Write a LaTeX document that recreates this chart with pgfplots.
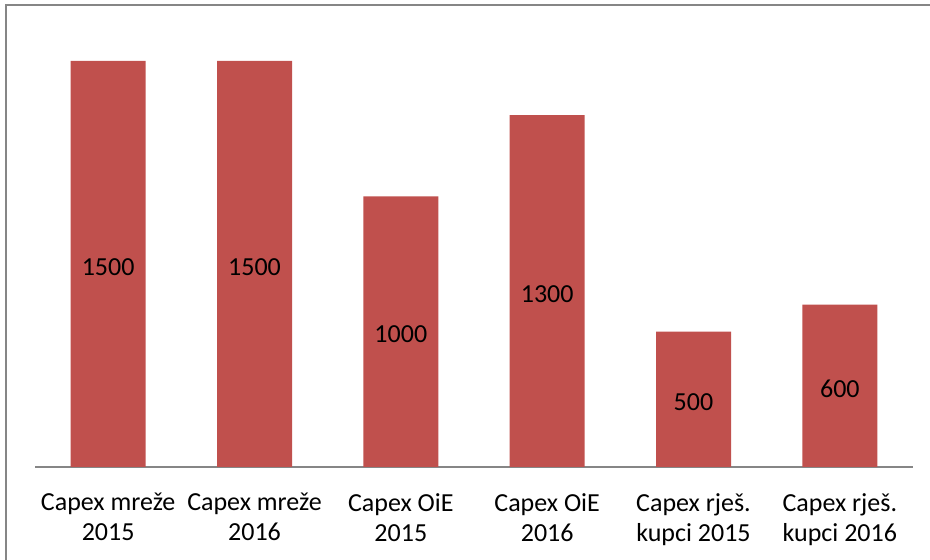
\documentclass[border=0pt]{standalone}
\usepackage{pgfplots}
\pgfplotsset{compat=1.18}
\usepackage{pgfplotstable}
\usepackage{fontspec}
\setmainfont{Carlito}
\definecolor{barred}{HTML}{C0504D}
\definecolor{framegray}{HTML}{868686}
\pgfplotstableread{
x y
0 1500
1 1500
2 1000
3 1300
4 500
5 600
}\capex
\begin{document}
\begin{tikzpicture}[x=1bp,y=1bp]
\useasboundingbox (0,0) rectangle (930,560);
\draw[framegray,line width=2bp] (6,0) -- (6,555) -- (930,555);
\begin{axis}[
  at={(35bp,93bp)}, anchor=south west,
  scale only axis, width=878bp, height=433.1bp,
  xmin=-0.5, xmax=5.5, ymin=0, ymax=1600,
  axis x line*=bottom, axis y line=none,
  x axis line style={draw=framegray, line width=2bp, -},
  ytick=\empty,
  xtick=data,
  xticklabels={{Capex mreže\\2015},{Capex mreže\\2016},{Capex OiE\\2015},{Capex OiE\\2016},{Capex rješ.\\kupci 2015},{Capex rješ.\\kupci 2016}},
  x tick label style={align=center, font=\fontsize{26bp}{30bp}\selectfont, text=black, inner sep=0pt, anchor=north, yshift=-26bp},
  major tick length=0pt,
  /pgf/number format/1000 sep={},
  /pgf/number format/assume math mode=true,
  clip=false,
]
\addplot[ybar, bar width=75bp, fill=barred, draw=none] table[x=x,y=y] {\capex};
\addplot[only marks, mark=none, point meta=explicit, nodes near coords,
  nodes near coords={\pgfmathprintnumber[1000 sep={},assume math mode=true]{\pgfplotspointmeta}},
  every node near coord/.append style={anchor=center, yshift=-3bp, font=\fontsize{26bp}{30bp}\selectfont, text=black}]
  table[x=x, y expr=\thisrow{y}/2, meta=y] {\capex};
\end{axis}
\end{tikzpicture}
\end{document}
